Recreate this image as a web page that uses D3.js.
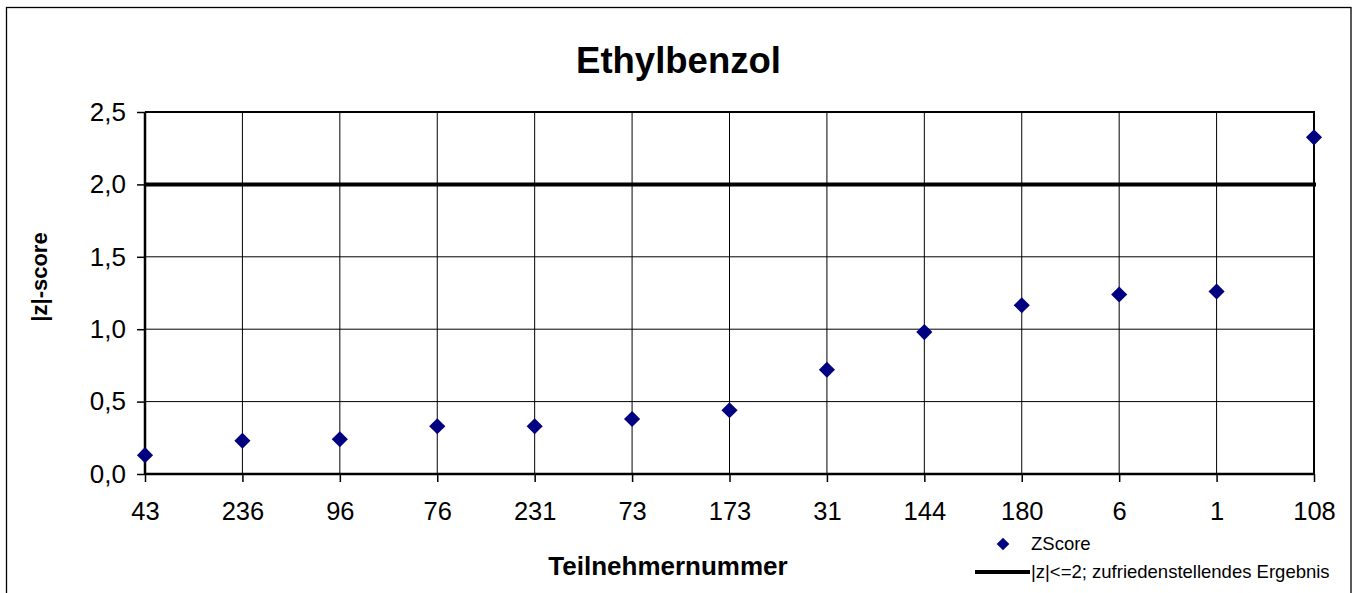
<!DOCTYPE html>
<html>
<head>
<meta charset="utf-8">
<script src="https://cdn.jsdelivr.net/npm/d3@7"></script>
<style>
  html, body { margin: 0; padding: 0; background: #fff; }
  svg { display: block; font-family: "Liberation Sans", Arial, sans-serif; }
</style>
</head>
<body>
<svg id="chart" width="1358" height="593"></svg>
<script>
// participant numbers along the x axis, sorted by |z|
const participants = ['43', '236', '96', '76', '231', '73', '173', '31', '144', '180', '6', '1', '108'];
const zScores = [0.13, 0.23, 0.24, 0.33, 0.33, 0.38, 0.44, 0.72, 0.98, 1.165, 1.24, 1.26, 2.325];
const limitValue = 2.0;
const yTicks = [0, 0.5, 1.0, 1.5, 2.0, 2.5];

const svg = d3.select('#chart');
const W = 1358, H = 593;
const plot = { left: 145, right: 1314, top: 112, bottom: 474 };

// outer chart border
svg.append('rect')
  .attr('x', 6.5).attr('y', 7.5)
  .attr('width', 1344.5).attr('height', H + 10)
  .attr('fill', '#fff')
  .attr('stroke', '#000')
  .attr('stroke-width', 1.3);

const x = d3.scalePoint().domain(participants).range([plot.left, plot.right]);
const y = d3.scaleLinear().domain([0, 2.5]).range([plot.bottom, plot.top]);

const fmt = v => d3.format('.1f')(v).replace('.', ',');

// gridlines
const grid = svg.append('g').attr('class', 'grid');
grid.selectAll('line.h')
  .data(yTicks)
  .enter().append('line')
  .attr('class', 'h')
  .attr('x1', plot.left).attr('x2', plot.right)
  .attr('y1', d => y(d)).attr('y2', d => y(d))
  .attr('stroke', '#000').attr('stroke-width', 1);
grid.selectAll('line.v')
  .data(participants)
  .enter().append('line')
  .attr('class', 'v')
  .attr('x1', d => x(d)).attr('x2', d => x(d))
  .attr('y1', plot.top).attr('y2', plot.bottom)
  .attr('stroke', '#000').attr('stroke-width', 1);

// plot frame (top / right)
svg.append('path')
  .attr('d', `M${plot.left},${plot.top}H${plot.right}V${plot.bottom}`)
  .attr('fill', 'none').attr('stroke', '#000').attr('stroke-width', 2);

// axes
const yAxis = svg.append('g')
  .attr('transform', `translate(${plot.left},0)`)
  .call(d3.axisLeft(y).tickValues(yTicks).tickFormat(fmt).tickSize(8).tickPadding(11));
const xAxis = svg.append('g')
  .attr('transform', `translate(0,${plot.bottom})`)
  .call(d3.axisBottom(x).tickSize(8).tickPadding(20));

[yAxis, xAxis].forEach(ax => {
  ax.select('.domain').attr('stroke', '#000').attr('stroke-width', 2.5);
  ax.selectAll('.tick line').attr('stroke', '#000').attr('stroke-width', 1.5);
  ax.selectAll('.tick text')
    .attr('fill', '#000')
    .style('font-family', '"Liberation Sans", Arial, sans-serif');
});
yAxis.selectAll('.tick text').style('font-size', '26px');
xAxis.selectAll('.tick text').style('font-size', '25.5px');
xAxis.select('.domain').attr('d', `M${plot.left},0H${plot.right}`);
yAxis.select('.domain').attr('d', `M0,${plot.top}V${plot.bottom}`);

// limit line |z| = 2
svg.append('line')
  .attr('x1', plot.left).attr('x2', plot.right + 2)
  .attr('y1', y(limitValue)).attr('y2', y(limitValue))
  .attr('stroke', '#000').attr('stroke-width', 4);

// z-score markers
const diamond = d3.symbol().type(d3.symbolSquare).size(130);
svg.append('g').selectAll('path.pt')
  .data(participants.map((p, i) => ({ p, z: zScores[i] })))
  .enter().append('path')
  .attr('class', 'pt')
  .attr('d', diamond)
  .attr('transform', d => `translate(${x(d.p)},${y(d.z)}) rotate(45)`)
  .attr('fill', '#000080');

// title and axis labels
svg.append('text')
  .attr('x', 678.5).attr('y', 73)
  .attr('text-anchor', 'middle')
  .style('font-size', '36.5px').style('font-weight', 'bold')
  .text('Ethylbenzol');

svg.append('text')
  .attr('transform', 'translate(47,277) rotate(-90)')
  .attr('text-anchor', 'middle')
  .style('font-size', '22px').style('font-weight', 'bold')
  .text('|z|-score');

svg.append('text')
  .attr('x', 668).attr('y', 575)
  .attr('text-anchor', 'middle')
  .style('font-size', '26px').style('font-weight', 'bold')
  .text('Teilnehmernummer');

// legend
const legend = svg.append('g');
legend.append('path')
  .attr('d', d3.symbol().type(d3.symbolSquare).size(80))
  .attr('transform', 'translate(1003,544) rotate(45)')
  .attr('fill', '#000080');
legend.append('text')
  .attr('x', 1031).attr('y', 549.5)
  .style('font-size', '18.5px')
  .text('ZScore');
legend.append('line')
  .attr('x1', 975).attr('x2', 1030)
  .attr('y1', 572).attr('y2', 572)
  .attr('stroke', '#000').attr('stroke-width', 4);
legend.append('text')
  .attr('x', 1031).attr('y', 578)
  .style('font-size', '18.5px')
  .text('|z|<=2; zufriedenstellendes Ergebnis');
</script>
</body>
</html>
